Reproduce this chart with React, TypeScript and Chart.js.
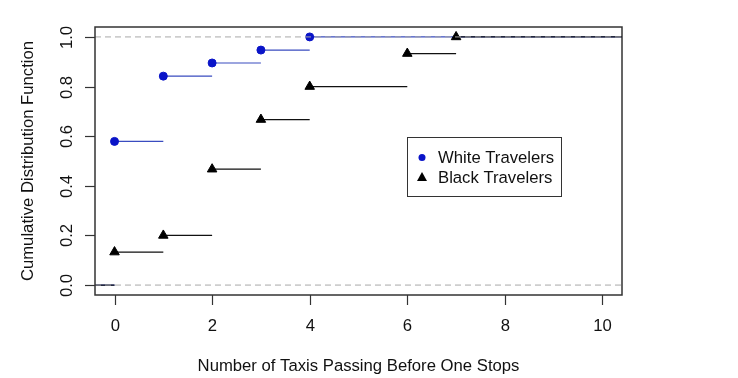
import React, { useEffect, useRef } from "react";
import { Chart, registerables } from "chart.js";

Chart.register(...registerables);

const whiteX = [0, 1, 2, 3, 4];
const whiteY = [0.579, 0.842, 0.895, 0.947, 1.0];
const blackX = [0, 1, 2, 3, 4, 6, 7];
const blackY = [0.133, 0.2, 0.467, 0.667, 0.8, 0.933, 1.0];
const xTicks = [0, 2, 4, 6, 8, 10];
const yTicks = [0, 0.2, 0.4, 0.6, 0.8, 1.0];
const X_MIN = -0.4;
const X_MAX = 10.4;
const Y_MIN = -0.04;
const Y_MAX = 1.04;
const seriesNames = ["White Travelers", "Black Travelers"];
const xTitle = "Number of Taxis Passing Before One Stops";
const yTitle = "Cumulative Distribution Function";

const FONT = '16.7px "Liberation Sans", Arial, sans-serif';
const BLUE = "#0a14c8";
const BLUE_LINE = "#3a4cc0";

function stepSegments(xs: number[], ys: number[]) {
  const out: any[] = [];
  out.push({ x: X_MIN, y: 0 }, { x: xs[0], y: 0 }, { x: xs[0], y: null });
  for (let i = 0; i < xs.length; i++) {
    const end = i + 1 < xs.length ? xs[i + 1] : X_MAX;
    out.push({ x: xs[i], y: ys[i] }, { x: end, y: ys[i] }, { x: end, y: null });
  }
  return out;
}

const decorPlugin = {
  id: "decor",
  afterDraw(chart: any) {
    const { ctx, chartArea, scales } = chart;
    const xs = scales.x;
    const ys = scales.y;
    ctx.save();
    // box
    ctx.strokeStyle = "#333";
    ctx.lineWidth = 1.5;
    ctx.strokeRect(chartArea.left, chartArea.top, chartArea.right - chartArea.left, chartArea.bottom - chartArea.top);
    ctx.lineWidth = 1.2;
    ctx.fillStyle = "#111";
    ctx.font = FONT;
    // x ticks
    ctx.textAlign = "center";
    ctx.textBaseline = "middle";
    xTicks.forEach((t) => {
      const px = Math.round(xs.getPixelForValue(t)) + 0.5;
      ctx.beginPath();
      ctx.moveTo(px, chartArea.bottom);
      ctx.lineTo(px, chartArea.bottom + 10);
      ctx.stroke();
      ctx.fillText(String(t), px, chartArea.bottom + 31);
    });
    // y ticks
    yTicks.forEach((t) => {
      const py = Math.round(ys.getPixelForValue(t)) + 0.5;
      ctx.beginPath();
      ctx.moveTo(chartArea.left, py);
      ctx.lineTo(chartArea.left - 10, py);
      ctx.stroke();
      ctx.save();
      ctx.translate(chartArea.left - 23, py);
      ctx.rotate(-Math.PI / 2);
      ctx.textAlign = "center";
      ctx.textBaseline = "alphabetic";
      ctx.fillText(t.toFixed(1), 0, 0);
      ctx.restore();
    });
    // titles
    ctx.textAlign = "center";
    ctx.textBaseline = "alphabetic";
    ctx.fillText(xTitle, (chartArea.left + chartArea.right) / 2, 371);
    ctx.save();
    ctx.translate(33, (chartArea.top + chartArea.bottom) / 2);
    ctx.rotate(-Math.PI / 2);
    ctx.fillText(yTitle, 0, 0);
    ctx.restore();
    // legend
    ctx.strokeStyle = "#333";
    ctx.lineWidth = 1;
    ctx.strokeRect(407.5, 137.5, 154, 59);
    ctx.fillStyle = BLUE;
    ctx.beginPath();
    ctx.arc(422, 157.5, 3.5, 0, Math.PI * 2);
    ctx.fill();
    ctx.fillStyle = "#000";
    ctx.beginPath();
    ctx.moveTo(422, 172);
    ctx.lineTo(427, 181);
    ctx.lineTo(417, 181);
    ctx.closePath();
    ctx.fill();
    ctx.fillStyle = "#111";
    ctx.textAlign = "left";
    ctx.textBaseline = "middle";
    ctx.fillText(seriesNames[0], 438, 158);
    ctx.fillText(seriesNames[1], 438, 178);
    ctx.restore();
  },
};

export default function App() {
  const ref = useRef<HTMLCanvasElement>(null);
  useEffect(() => {
    if (!ref.current) return;
    const chart = new Chart(ref.current, {
      type: "scatter",
      data: {
        datasets: [
          {
            type: "line",
            label: "ref",
            data: [
              { x: X_MIN, y: 0 }, { x: X_MAX, y: 0 }, { x: X_MAX, y: null },
              { x: X_MIN, y: 1 }, { x: X_MAX, y: 1 },
            ],
            borderColor: "#a8a8a8",
            borderWidth: 1,
            borderDash: [6, 4],
            pointRadius: 0,
            spanGaps: false,
            order: 0,
          } as any,
          {
            type: "line",
            label: seriesNames[0] + " steps",
            data: stepSegments(whiteX, whiteY),
            borderColor: BLUE_LINE,
            borderWidth: 1.2,
            pointRadius: 0,
            spanGaps: false,
            order: 8,
          } as any,
          {
            type: "line",
            label: seriesNames[1] + " steps",
            data: stepSegments(blackX, blackY),
            borderColor: "#111",
            borderWidth: 1.2,
            pointRadius: 0,
            spanGaps: false,
            order: 7,
          } as any,
          {
            label: seriesNames[0],
            data: whiteX.map((x, i) => ({ x, y: whiteY[i] })),
            backgroundColor: BLUE,
            borderColor: BLUE,
            pointStyle: "circle",
            pointRadius: 4,
            order: 2,
          },
          {
            label: seriesNames[1],
            data: blackX.map((x, i) => ({ x, y: blackY[i] })),
            backgroundColor: "#000",
            borderColor: "#000",
            pointStyle: "triangle",
            pointRadius: 5.5,
            order: 1,
          },
        ],
      },
      options: {
        animation: false,
        responsive: false,
        layout: { padding: { top: 27, right: 116, left: 0, bottom: 0 } },
        plugins: { legend: { display: false }, tooltip: { enabled: false } },
        scales: {
          x: {
            type: "linear",
            min: X_MIN,
            max: X_MAX,
            grid: { display: false },
            border: { display: false },
            ticks: { display: false },
            afterFit: (s: any) => { s.height = 83; },
          },
          y: {
            type: "linear",
            min: Y_MIN,
            max: Y_MAX,
            grid: { display: false },
            border: { display: false },
            ticks: { display: false },
            afterFit: (s: any) => { s.width = 95; },
          },
        },
      },
      plugins: [decorPlugin],
    });
    return () => chart.destroy();
  }, []);
  return (
    <div style={{ position: "fixed", left: 0, top: 0, width: 738, height: 378, background: "#fff" }}>
      <canvas ref={ref} width={738} height={378} style={{ width: 738, height: 378 }} />
    </div>
  );
}
